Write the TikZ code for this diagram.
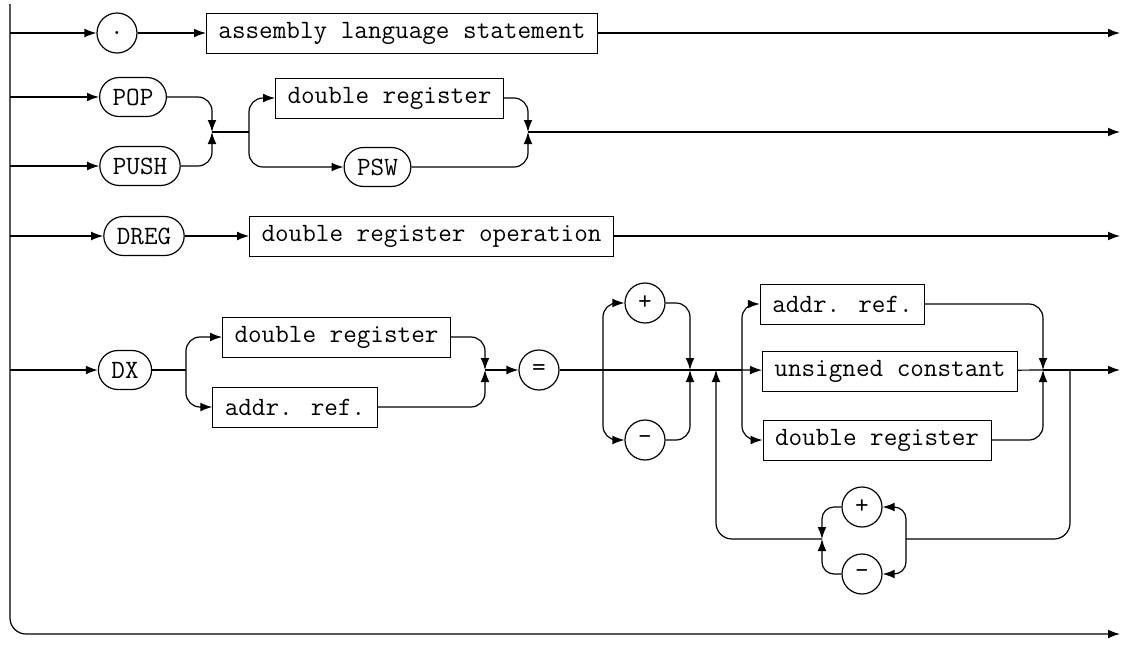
\documentclass[tikz,border=0pt]{standalone}
\usepackage{tikz}
\usetikzlibrary{arrows.meta}
\tikzset{
term/.style = {rectangle, draw=black, rounded corners=9.75pt,
               minimum height=19.5pt, inner xsep=6.5pt},
circ/.style = {circle, draw=black, minimum size=#1,
               inner sep=0pt},
circ/.default = 20pt % diameter of the circle
}
\tikzset{
box/.style = {rectangle, draw=black, line width=0.45pt,
              minimum height=20pt, inner xsep=6pt}
}

\begin{document}
\begin{tikzpicture}[x=0.5pt, y=-0.5pt, line width=0.6pt,
    >={Latex[length=6pt,width=4.4pt]},
    font=\fontsize{13.2}{15}\selectfont\ttfamily]
    \useasboundingbox (0,0) rectangle (1121,644);

    % spine and exit
    \coordinate (spineTop) at (10,4);
    \coordinate (exitEnd) at (1120,634);
    \draw[->, rounded corners=8pt] (spineTop) |- (exitEnd);

    % row 1
    \node[circ] (dotC) at (117,33) {.};
    \node[box] (asmStmt) at (402,33) {assembly language statement};
    \coordinate (end1) at (1120,33);

    \draw[->] (spineTop |- dotC) -- (dotC);
    \draw[->] (dotC) -- (asmStmt);
    \draw[->] (asmStmt) -- (end1);

    % row 2
    \node[term] (pop) at (133,97) {POP};
    \node[term] (push) at (140,166) {PUSH};
    \coordinate (popJoin) at (212,132);
    \coordinate (popSplit) at (249,132);
    \node[box] (dreg2) at (389.5,98) {double register};
    \node[term] (psw) at (377.5,167) {PSW};
    \coordinate (pswJoin) at (528,132);
    \coordinate (end2) at (1120,132);

    \draw[->] (spineTop |- pop) -- (pop);
    \draw[->] (spineTop |- push) -- (push);
    \draw[->, rounded corners=7pt] (pop) -| (popJoin);
    \draw[->, rounded corners=7pt] (push) -| (popJoin);
    \draw (popJoin) -- (popSplit);
    \draw[->, rounded corners=7pt] (popSplit) |- (dreg2);
    \draw[->, rounded corners=7pt] (popSplit) |- (psw);
    \draw[->, rounded corners=7pt] (dreg2) -| (pswJoin);
    \draw[->, rounded corners=7pt] (psw) -| (pswJoin);
    \draw[->] (pswJoin) -- (end2);

    % row 3
    \node[term] (dregT) at (144,236) {DREG};
    \node[box] (dregOp) at (431.5,236) {double register operation};
    \coordinate (end3) at (1120,236);

    \draw[->] (spineTop |- dregT) -- (dregT);
    \draw[->] (dregT) -- (dregOp);
    \draw[->] (dregOp) -- (end3);

    % row 4
    \node[term] (dx) at (125,370) {DX};
    \coordinate (dxSplit) at (186,370);
    \node[box] (dreg4) at (336.5,337) {double register};
    \node[box] (addr4) at (295,407) {addr. ref.};
    \coordinate (dxJoin) at (485,370);
    \node[circ] (eq) at (539,370) {=};
    \coordinate (signSplit) at (603,370);
    \node[circ] (plusA) at (645,303) {+};
    \node[circ] (minusA) at (645,440) {-};
    \coordinate (signJoin) at (690,370);
    \coordinate (loopIn) at (716,370);
    \coordinate (termSplit) at (742,370);
    \node[box] (addr5) at (842.5,304) {addr. ref.};
    \node[box] (ucon) at (890,371) {unsigned constant};
    \node[box] (dreg5) at (877,440) {double register};
    \coordinate (termJoin) at (1043,370);
    \coordinate (loopOut) at (1070,370);
    \coordinate (end4) at (1120,370);
    \coordinate (opSplit) at (906,539);
    \node[circ] (plusB) at (862,507) {+};
    \node[circ] (minusB) at (862,574) {-};
    \coordinate (opJoin) at (822,539);

    \draw[->] (spineTop |- dx) -- (dx);
    \draw (dx) -- (dxSplit);
    \draw[->, rounded corners=7pt] (dxSplit) |- (dreg4);
    \draw[->, rounded corners=7pt] (dxSplit) |- (addr4);
    \draw[->, rounded corners=7pt] (dreg4) -| (dxJoin);
    \draw[->, rounded corners=7pt] (addr4) -| (dxJoin);
    \draw[->] (dxJoin) -- (eq);
    \draw (eq) -- (signJoin);
    \draw[->, rounded corners=7pt] (signSplit) |- (plusA);
    \draw[->, rounded corners=7pt] (signSplit) |- (minusA);
    \draw[->, rounded corners=7pt] (plusA) -| (signJoin);
    \draw[->, rounded corners=7pt] (minusA) -| (signJoin);
    \draw (signJoin) -- (termSplit);
    \draw[->, rounded corners=7pt] (termSplit) |- (addr5);
    \draw[->] (termSplit) -- (ucon);
    \draw[->, rounded corners=7pt] (termSplit) |- (dreg5);
    \draw[->, rounded corners=7pt] (addr5) -| (termJoin);
    \draw (ucon) -- (termJoin);
    \draw[->, rounded corners=7pt] (dreg5) -| (termJoin);
    \draw[->] (termJoin) -- (end4);

    % repetition loop
    \draw[rounded corners=8pt] (loopOut) |- (opSplit);
    \draw[->, rounded corners=6pt] (opSplit) |- (plusB);
    \draw[->, rounded corners=6pt] (opSplit) |- (minusB);
    \draw[->, rounded corners=6pt] (plusB) -| (opJoin);
    \draw[->, rounded corners=6pt] (minusB) -| (opJoin);
    \draw[->, rounded corners=8pt] (opJoin) -| (loopIn);
\end{tikzpicture}
\end{document}
